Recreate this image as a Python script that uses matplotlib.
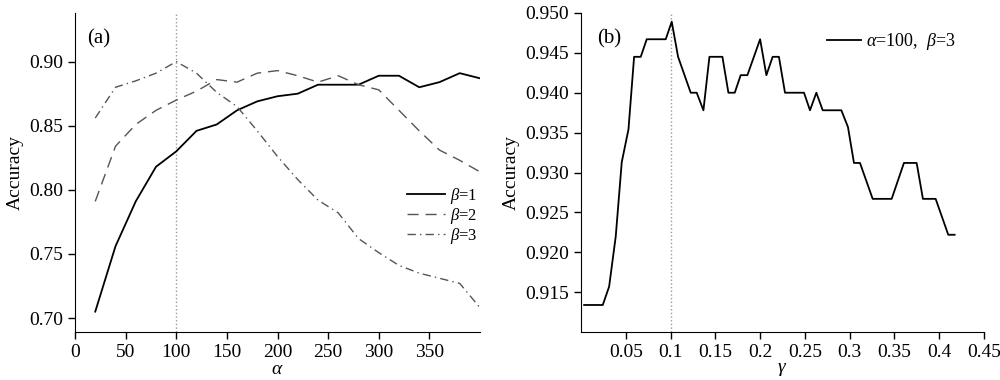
import matplotlib.pyplot as plt
import numpy as np

plt.rcParams['font.family'] = ['Liberation Serif', 'DejaVu Serif']
plt.rcParams['mathtext.fontset'] = 'custom'
plt.rcParams['mathtext.rm'] = 'Liberation Serif'
plt.rcParams['mathtext.it'] = 'Liberation Serif:italic'
plt.rcParams['font.size'] = 14

# (a) accuracy vs alpha
alpha = [20, 40, 60, 80, 100, 120, 140, 160, 180, 200, 220, 240, 260, 280, 300, 320, 340, 360, 380, 400]
acc_b1 = [0.705, 0.756, 0.791, 0.818, 0.830, 0.846, 0.851, 0.862, 0.869, 0.873, 0.875, 0.882, 0.882, 0.882,
          0.889, 0.889, 0.880, 0.884, 0.891, 0.887]
acc_b2 = [0.791, 0.834, 0.851, 0.862, 0.870, 0.877, 0.886, 0.884, 0.891, 0.893, 0.889, 0.884, 0.889, 0.882,
          0.878, 0.862, 0.846, 0.831, 0.823, 0.814]
acc_b3 = [0.856, 0.880, 0.885, 0.891, 0.900, 0.891, 0.876, 0.865, 0.846, 0.826, 0.808, 0.792, 0.782, 0.762,
          0.751, 0.741, 0.735, 0.731, 0.727, 0.708]

# (b) accuracy vs gamma (alpha=100, beta=3)
gamma = [0.0035, 0.0243, 0.0314, 0.0388, 0.0455, 0.053, 0.0593, 0.0667, 0.0734, 0.0946, 0.1013, 0.1084,
         0.1225, 0.1292, 0.1367, 0.1434, 0.1579, 0.1646, 0.1717, 0.1783, 0.1858, 0.2, 0.207, 0.214, 0.221,
         0.2278, 0.249, 0.2557, 0.2628, 0.2699, 0.2907, 0.2981, 0.3048, 0.3115, 0.3257, 0.3469, 0.3606,
         0.3748, 0.3818, 0.396, 0.4101, 0.4172]
acc_g = [0.9134, 0.9134, 0.9157, 0.922, 0.9313, 0.9354, 0.9445, 0.9445, 0.9467, 0.9467, 0.9489, 0.9445,
         0.940, 0.940, 0.9378, 0.9445, 0.9445, 0.940, 0.940, 0.9422, 0.9422, 0.9467, 0.9422, 0.9445, 0.9445,
         0.940, 0.940, 0.9378, 0.940, 0.9378, 0.9378, 0.9357, 0.9312, 0.9312, 0.9267, 0.9267, 0.9312,
         0.9312, 0.9267, 0.9267, 0.9222, 0.9222]

fig = plt.figure(figsize=(10, 3.8), dpi=100)
ax1 = fig.add_axes([0.075, 0.126, 0.405, 0.840])
ax2 = fig.add_axes([0.581, 0.126, 0.403, 0.840])

for ax in (ax1, ax2):
    ax.spines['top'].set_visible(False)
    ax.spines['right'].set_visible(False)
    ax.tick_params(direction='out', length=5, width=1, labelsize=14)
    ax.set_ylabel('Accuracy', fontsize=14)

ax1.axvline(100, color='#999999', ls=':', lw=1)
ax1.plot(alpha, acc_b1, color='black', lw=1.3, label=r'$\beta$=1')
ax1.plot(alpha, acc_b2, color='#555555', lw=1, ls=(0, (8, 5)), label=r'$\beta$=2')
ax1.plot(alpha, acc_b3, color='#555555', lw=1, ls=(0, (6, 3, 1, 3)), label=r'$\beta$=3')
ax1.set_xlim(0, 400)
ax1.set_ylim(0.689, 0.938)
ax1.set_xticks([0, 50, 100, 150, 200, 250, 300, 350])
ax1.set_yticks([0.70, 0.75, 0.80, 0.85, 0.90])
ax1.set_yticklabels(['0.70', '0.75', '0.80', '0.85', '0.90'])
ax1.set_xlabel(r'$\alpha$', fontsize=14, labelpad=0)
ax1.text(0.03, 0.95, '(a)', transform=ax1.transAxes, fontsize=15, va='top')
ax1.legend(loc='center right', bbox_to_anchor=(0.995, 0.365), frameon=False, fontsize=12,
           handlelength=2.3, labelspacing=0.0, handletextpad=0.3, borderpad=0, borderaxespad=0)

ax2.axvline(0.1, color='#999999', ls=':', lw=1)
ax2.plot(gamma, acc_g, color='black', lw=1.3, label=r'$\alpha$=100,  $\beta$=3')
ax2.set_xlim(0, 0.45)
ax2.set_ylim(0.910, 0.950)
ax2.set_xticks([0.05, 0.1, 0.15, 0.2, 0.25, 0.3, 0.35, 0.4, 0.45])
ax2.set_xticklabels(['0.05', '0.1', '0.15', '0.2', '0.25', '0.3', '0.35', '0.4', '0.45'])
ax2.set_yticks([0.915, 0.920, 0.925, 0.930, 0.935, 0.940, 0.945, 0.950])
ax2.set_yticklabels(['0.915', '0.920', '0.925', '0.930', '0.935', '0.940', '0.945', '0.950'])
ax2.set_xlabel(r'$\gamma$', fontsize=14, labelpad=0)
ax2.text(0.04, 0.95, '(b)', transform=ax2.transAxes, fontsize=15, va='top')
ax2.legend(loc='center right', bbox_to_anchor=(0.93, 0.909), frameon=False, fontsize=13,
           handlelength=1.9, handletextpad=0.3, borderpad=0, borderaxespad=0)

plt.savefig('out.png')
